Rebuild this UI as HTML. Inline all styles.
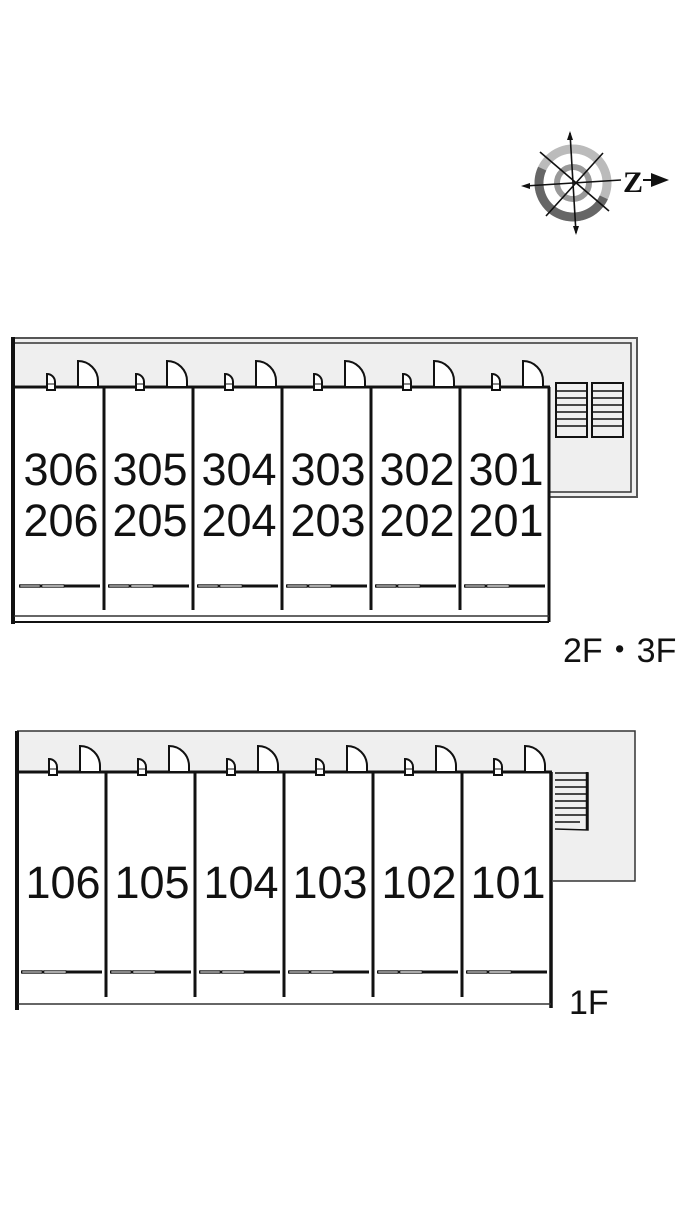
<!DOCTYPE html>
<html><head><meta charset="utf-8"><style>
html,body{margin:0;padding:0;background:#fff;}
svg{display:block;}
text{font-family:"Liberation Sans",sans-serif;fill:#111;}
</style></head><body>
<svg width="700" height="1208" viewBox="0 0 700 1208" xmlns="http://www.w3.org/2000/svg">
<defs>
<g id="doors" fill="#fff" stroke="#111" stroke-width="2">
  <path d="M32,3 V-13 A8,8 0 0 1 40,-5 V3 Z"/>
  <line x1="32" y1="-3" x2="40" y2="-3" stroke-width="1"/>
  <path d="M63,0 V-26 A20,20 0 0 1 83,-6 V0 Z"/>
</g>
<g id="win" stroke="#111">
  <line x1="4" y1="0" x2="85" y2="0" stroke-width="3"/>
  <rect x="5" y="-1.5" width="20" height="3" fill="#888" stroke-width="0.6"/>
  <rect x="27" y="-1.5" width="22" height="3" fill="#aaa" stroke-width="0.6"/>
</g>
</defs>

<!-- compass -->
<g transform="translate(573,183)">
  <circle r="34" fill="none" stroke="#bbb" stroke-width="9"/>
  <path d="M-34,0 A34,34 0 0 0 34,0" fill="none" stroke="#666" stroke-width="9" transform="rotate(25)"/>
  <circle r="16" fill="none" stroke="#999" stroke-width="6"/>
  <g stroke="#111" stroke-width="1.6">
    <line x1="-3" y1="-50" x2="3" y2="50"/>
    <line x1="-48" y1="3" x2="48" y2="-3"/>
    <line x1="-33" y1="-31" x2="36" y2="28"/>
    <line x1="-27" y1="33" x2="30" y2="-30"/>
  </g>
  <path d="M-3,-52 l-3,9 h6z M3,52 l-3,-9 h6z M-52,3 l9,-3 v6z" fill="#111"/>
  <text x="50" y="9" font-size="30" font-weight="bold" style="font-family:'Liberation Serif',serif">Z</text>
  <path d="M70,-3 H80" stroke="#111" stroke-width="2"/>
  <path d="M78,-10 L96,-3 L78,4 Z" fill="#111"/>
</g>

<!-- 2F/3F building -->
<rect x="13" y="338" width="624" height="47" fill="#efefef"/>
<rect x="550" y="338" width="87" height="159" fill="#efefef"/>
<path d="M13,338 H637 V497 H550" fill="none" stroke="#555" stroke-width="2"/>
<path d="M15,343 H631 V492 H550" fill="none" stroke="#333" stroke-width="1.5"/>
<line x1="13" y1="337" x2="13" y2="624" stroke="#111" stroke-width="4"/>
<line x1="15" y1="387" x2="550" y2="387" stroke="#111" stroke-width="3"/>
<line x1="549" y1="387" x2="549" y2="622" stroke="#111" stroke-width="3"/>
<g stroke="#111" stroke-width="3">
  <line x1="104" y1="387" x2="104" y2="610"/><line x1="193" y1="387" x2="193" y2="610"/>
  <line x1="282" y1="387" x2="282" y2="610"/><line x1="371" y1="387" x2="371" y2="610"/>
  <line x1="460" y1="387" x2="460" y2="610"/>
</g>
<line x1="14" y1="616" x2="549" y2="616" stroke="#333" stroke-width="1.5"/>
<line x1="14" y1="622" x2="549" y2="622" stroke="#111" stroke-width="2"/>
<use href="#doors" x="15" y="387"/><use href="#doors" x="104" y="387"/><use href="#doors" x="193" y="387"/>
<use href="#doors" x="282" y="387"/><use href="#doors" x="371" y="387"/><use href="#doors" x="460" y="387"/>
<use href="#win" x="15" y="586"/><use href="#win" x="104" y="586"/><use href="#win" x="193" y="586"/>
<use href="#win" x="282" y="586"/><use href="#win" x="371" y="586"/><use href="#win" x="460" y="586"/>
<!-- stairs -->
<g stroke="#111" fill="none">
  <rect x="556" y="383" width="31" height="54" stroke-width="2"/>
  <rect x="592" y="383" width="31" height="54" stroke-width="2"/>
  <path d="M556,391H587M556,398H587M556,405H587M556,412H587M556,419H587M556,426H587 M592,391H623M592,398H623M592,405H623M592,412H623M592,419H623M592,426H623" stroke-width="1.5"/>
</g>
<g font-size="45" text-anchor="middle">
  <text x="61" y="485">306</text><text x="150" y="485">305</text><text x="239" y="485">304</text>
  <text x="328" y="485">303</text><text x="417" y="485">302</text><text x="506" y="485">301</text>
  <text x="61" y="536">206</text><text x="150" y="536">205</text><text x="239" y="536">204</text>
  <text x="328" y="536">203</text><text x="417" y="536">202</text><text x="506" y="536">201</text>
</g>
<text x="563" y="662" font-size="34">2F・3F</text>

<!-- 1F building -->
<rect x="17" y="731" width="618" height="41" fill="#efefef"/>
<rect x="551" y="731" width="84" height="150" fill="#efefef"/>
<path d="M17,731 H635 V881 H553" fill="none" stroke="#333" stroke-width="1.5"/>
<line x1="17" y1="731" x2="17" y2="1010" stroke="#111" stroke-width="4"/>
<line x1="17" y1="772" x2="552" y2="772" stroke="#111" stroke-width="3"/>
<line x1="551" y1="772" x2="551" y2="1008" stroke="#111" stroke-width="3.5"/>
<g stroke="#111" stroke-width="3">
  <line x1="106" y1="772" x2="106" y2="997"/><line x1="195" y1="772" x2="195" y2="997"/>
  <line x1="284" y1="772" x2="284" y2="997"/><line x1="373" y1="772" x2="373" y2="997"/>
  <line x1="462" y1="772" x2="462" y2="997"/>
</g>
<line x1="18" y1="1004" x2="551" y2="1004" stroke="#333" stroke-width="1.5"/>
<use href="#doors" x="17" y="772"/><use href="#doors" x="106" y="772"/><use href="#doors" x="195" y="772"/>
<use href="#doors" x="284" y="772"/><use href="#doors" x="373" y="772"/><use href="#doors" x="462" y="772"/>
<use href="#win" x="17" y="972"/><use href="#win" x="106" y="972"/><use href="#win" x="195" y="972"/>
<use href="#win" x="284" y="972"/><use href="#win" x="373" y="972"/><use href="#win" x="462" y="972"/>
<g stroke="#111" fill="none" stroke-width="1.5">
  <path d="M555,773 H588 V830 L555,829"/>
  <path d="M587,772 V830" stroke-width="2.5"/>
  <path d="M555,780H587M555,787H587M555,794H587M555,801H587M555,808H587M555,815H587M555,822H580"/>
</g>
<g font-size="45" text-anchor="middle">
  <text x="63" y="898">106</text><text x="152" y="898">105</text><text x="241" y="898">104</text>
  <text x="330" y="898">103</text><text x="419" y="898">102</text><text x="508" y="898">101</text>
</g>
<text x="569" y="1014" font-size="34">1F</text>
</svg>
</body></html>
